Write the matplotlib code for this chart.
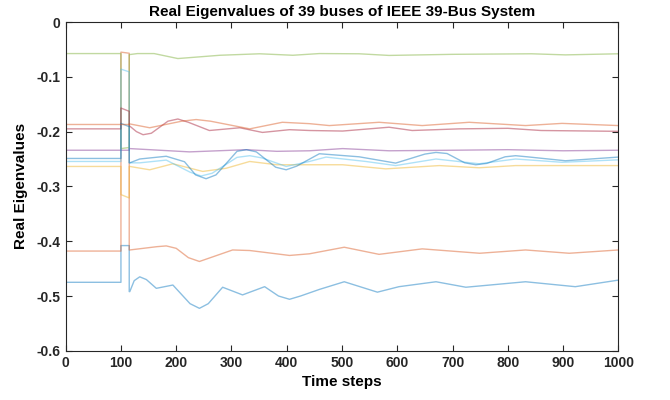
import matplotlib
matplotlib.use("Agg")
import matplotlib.pyplot as plt

plt.rcParams['font.family'] = ['Liberation Sans', 'DejaVu Sans']

# Fault window: disturbance applied at t=100, cleared at t=115
t_fault_on = 100
t_fault_off = 115

# Each mode: pre-fault value, values during the fault, then post-fault samples
green_pre = -0.0576
green_fault = [-0.231, -0.229]
green_t = [116, 130, 160, 203, 279, 351, 411, 459, 531, 585, 700, 843, 904, 1000]
green_v = [-0.0594, -0.0576, -0.0576, -0.0667, -0.0607, -0.058, -0.0607, -0.0576,
           -0.058, -0.061, -0.059, -0.058, -0.060, -0.058]

orange_pre = -0.187
orange_fault = [-0.187, -0.187]
orange_t = [116, 152, 210, 236, 262, 333, 392, 441, 477, 567, 645, 730, 832, 898, 1000]
orange_v = [-0.186, -0.193, -0.181, -0.178, -0.181, -0.195, -0.183, -0.1855, -0.189,
            -0.183, -0.189, -0.183, -0.189, -0.185, -0.189]

red_pre = -0.195
red_fault = [-0.157, -0.163]
red_t = [116, 128, 140, 155, 185, 203, 222, 260, 315, 356, 405, 441, 501, 585, 627,
         712, 800, 860, 1000]
red_v = [-0.190, -0.200, -0.2057, -0.203, -0.181, -0.177, -0.183, -0.198, -0.193,
         -0.2015, -0.1965, -0.198, -0.199, -0.192, -0.198, -0.195, -0.194, -0.198,
         -0.1995]

purple_pre = -0.234
purple_fault = [-0.234, -0.234]
purple_t = [116, 134, 224, 327, 382, 441, 501, 585, 700, 800, 900, 1000]
purple_v = [-0.231, -0.232, -0.237, -0.233, -0.236, -0.235, -0.231, -0.235,
            -0.234, -0.233, -0.235, -0.234]

blue_pre = -0.249
blue_fault = [-0.185, -0.191]
blue_t = [116, 134, 182, 215, 235, 254, 272, 310, 327, 345, 380, 399, 418, 459,
          531, 597, 650, 670, 690, 722, 742, 762, 795, 814, 835, 904, 1000]
blue_v = [-0.257, -0.250, -0.245, -0.255, -0.279, -0.286, -0.279, -0.236, -0.233,
          -0.237, -0.265, -0.2697, -0.263, -0.2404, -0.246, -0.2575, -0.241, -0.238,
          -0.240, -0.257, -0.2605, -0.258, -0.246, -0.244, -0.246, -0.2532, -0.2465]

cyan_pre = -0.2545
cyan_fault = [-0.086, -0.091]
cyan_t = [116, 134, 182, 225, 245, 265, 310, 333, 355, 399, 441, 471, 543, 597, 670,
          748, 814, 898, 1000]
cyan_v = [-0.257, -0.257, -0.252, -0.274, -0.281, -0.276, -0.247, -0.244, -0.248,
          -0.2636, -0.2545, -0.2465, -0.2545, -0.262, -0.250, -0.2587, -0.250,
          -0.256, -0.2515]

yellow_pre = -0.2636
yellow_fault = [-0.315, -0.321]
yellow_t = [116, 152, 194, 248, 290, 333, 382, 441, 501, 579, 676, 748, 814, 1000]
yellow_v = [-0.2636, -0.2697, -0.2587, -0.2727, -0.267, -0.2545, -0.2605, -0.2605,
            -0.2605, -0.268, -0.262, -0.266, -0.262, -0.262]

orange2_pre = -0.418
orange2_fault = [-0.055, -0.057]
orange2_t = [116, 165, 182, 200, 222, 242, 262, 302, 333, 405, 441, 504, 567, 645,
             749, 832, 911, 1000]
orange2_v = [-0.416, -0.410, -0.4086, -0.413, -0.430, -0.437, -0.430, -0.416,
             -0.417, -0.426, -0.423, -0.411, -0.424, -0.414, -0.422, -0.416,
             -0.422, -0.416]

blue2_pre = -0.475
blue2_fault = [-0.408, -0.408]
blue2_t = [116, 124, 134, 146, 164, 194, 225, 242, 258, 284, 320, 360, 385, 405,
           425, 459, 504, 564, 603, 670, 724, 832, 922, 1000]
blue2_v = [-0.492, -0.472, -0.465, -0.470, -0.486, -0.480, -0.514, -0.5225, -0.514,
           -0.484, -0.498, -0.483, -0.500, -0.506, -0.500, -0.488, -0.474, -0.493,
           -0.483, -0.474, -0.484, -0.474, -0.483, -0.471]

modes = [
    (blue2_pre, blue2_fault, blue2_t, blue2_v, '#0072BD'),
    (orange2_pre, orange2_fault, orange2_t, orange2_v, '#D95319'),
    (yellow_pre, yellow_fault, yellow_t, yellow_v, '#EDB120'),
    (purple_pre, purple_fault, purple_t, purple_v, '#7E2F8E'),
    (green_pre, green_fault, green_t, green_v, '#77AC30'),
    (cyan_pre, cyan_fault, cyan_t, cyan_v, '#4DBEEE'),
    (red_pre, red_fault, red_t, red_v, '#A2142F'),
    (blue_pre, blue_fault, blue_t, blue_v, '#0072BD'),
    (orange_pre, orange_fault, orange_t, orange_v, '#D95319'),
]

fig = plt.figure(figsize=(6.7, 4.0), dpi=100)
ax = fig.add_axes([0.098, 0.123, 0.825, 0.822])

for pre, fault, tt, vv, col in modes:
    t = [0, t_fault_on, t_fault_on, t_fault_off, t_fault_off] + tt
    v = [pre, pre, fault[0], fault[1], vv[0]] + vv
    ax.plot(t, v, color=col, lw=1.0, alpha=0.45, solid_joinstyle='round')

ax.set_xlim(0, 1000)
ax.set_ylim(-0.6, 0)
ax.set_xticks(range(0, 1001, 100))
ax.set_yticks([-0.6, -0.5, -0.4, -0.3, -0.2, -0.1, 0])
ax.set_yticklabels(['-0.6', '-0.5', '-0.4', '-0.3', '-0.2', '-0.1', '0'])

ax.tick_params(direction='in', top=True, right=True, length=4, width=0.8,
               colors='#262626', labelsize=10, pad=4)
for lab in ax.get_xticklabels() + ax.get_yticklabels():
    lab.set_fontweight('bold')
for sp in ax.spines.values():
    sp.set_color('#262626')
    sp.set_linewidth(0.8)

ax.set_title('Real Eigenvalues of 39 buses of IEEE 39-Bus System',
             fontsize=11, fontweight='bold', pad=4)
ax.set_xlabel('Time steps', fontsize=11, fontweight='bold', labelpad=3)
ax.set_ylabel('Real Eigenvalues', fontsize=11, fontweight='bold', labelpad=6)

fig.savefig('out.png', dpi=100)
